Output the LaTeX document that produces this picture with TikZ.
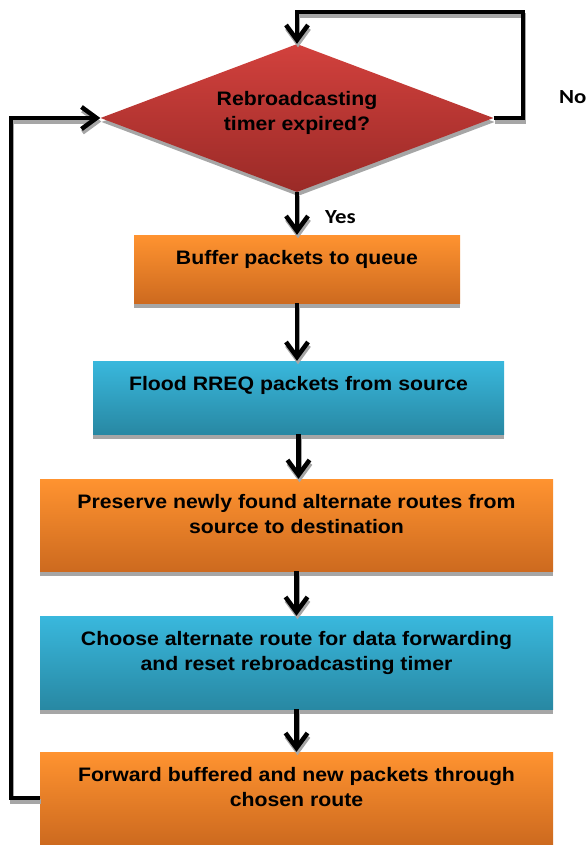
\documentclass[tikz,border=0pt]{standalone}
\usepackage{fontspec}
\setmainfont[FakeStretch=1.09]{Liberation Sans}
\newfontfamily\lblfont[FakeStretch=1.14]{Carlito}
\usetikzlibrary{shapes.geometric,shadows,arrows.meta}
\definecolor{orTop}{HTML}{FF9330}
\definecolor{orBot}{HTML}{CD6A1F}
\definecolor{blTop}{HTML}{39B8DD}
\definecolor{blBot}{HTML}{2888A3}
\definecolor{rdTop}{HTML}{D2413D}
\definecolor{rdBot}{HTML}{9A2A27}
\definecolor{shgray}{HTML}{A6A6A6}
\tikzset{
  boxbase/.style={rectangle, inner sep=0pt, draw=none,
    drop shadow={shadow xshift=0pt, shadow yshift=-5pt, fill=shgray, opacity=1}},
  orbox/.style={boxbase, top color=orTop, bottom color=orBot},
  blbox/.style={boxbase, top color=blTop, bottom color=blBot},
  decision/.style={diamond, inner sep=0pt, draw=none, top color=rdTop, bottom color=rdBot,
    drop shadow={shadow xshift=1pt, shadow yshift=-4pt, fill=shgray, opacity=1}},
  boxtext/.style={anchor=north, inner sep=0pt, align=center,
    font=\fontsize{19.5}{25}\selectfont\bfseries},
  yesno/.style={inner sep=0pt, font=\lblfont\fontsize{20}{22}\selectfont\bfseries},
  conn/.style={line width=4.5pt, line join=miter},
  tip/.style={-{Straight Barb[length=15pt, width=22pt]}},
}
\newcommand\drawconns[1]{%
  \draw[conn, draw=#1, tip] (dia.south) -- (dia.south |- b1.north);
  \draw[conn, draw=#1, tip] (b1.south) -- (b1.south |- b2.north);
  \draw[conn, draw=#1, tip] (b2.south) -- (b2.south |- b3.north);
  \draw[conn, draw=#1, tip] (b3.south) -- (b3.south |- b4.north);
  \draw[conn, draw=#1, tip] (b4.south) -- (b4.south |- b5.north);
  \draw[conn, draw=#1, tip] (dia.east) -| (loopR) -- (loopT) -- (dia.north);
  \draw[conn, draw=#1, tip] (b5.west) -| (loopL) |- (dia.west);
}
\begin{document}
\begin{tikzpicture}[x=1pt, y=-1pt]
\useasboundingbox (0,0) rectangle (588,845);
% shapes
\node[decision, minimum width=393pt, minimum height=148pt] (dia) at (297,118) {};
\node[orbox, minimum width=326pt, minimum height=68pt] (b1) at (297,269) {};
\node[blbox, minimum width=411pt, minimum height=73pt] (b2) at (298.5,397.5) {};
\node[orbox, minimum width=513pt, minimum height=92pt] (b3) at (296.5,525) {};
\node[blbox, minimum width=513pt, minimum height=93pt] (b4) at (296.5,662.5) {};
\node[orbox, minimum width=513pt, minimum height=92pt] (b5) at (296.5,798) {};
% free connector ends
\coordinate (loopR) at (523,12);
\coordinate (loopT) at (297,12);
\coordinate (loopL) at (11,460);
% texts
\node[boxtext] (tdia) at ([yshift=5.5pt]dia.center) [anchor=center] {Rebroadcasting\\timer expired?};
\node[boxtext] (t1) at ([yshift=-15.5pt]b1.north) {Buffer packets to queue};
\node[boxtext] (t2) at ([yshift=-15.5pt]b2.north) {Flood RREQ packets from source};
\node[boxtext] (t3) at ([yshift=-15.5pt]b3.north) {Preserve newly found alternate routes from\\source to destination};
\node[boxtext] (t4) at ([yshift=-15.5pt]b4.north) {Choose alternate route for data forwarding\\and reset rebroadcasting timer};
\node[boxtext] (t5) at ([yshift=-15.5pt]b5.north) {Forward buffered and new packets through\\chosen route};
% connectors: shadow then line
\begin{scope}[transform canvas={xshift=1pt, yshift=-3.5pt}]
  \drawconns{shgray}
\end{scope}
\drawconns{black}
% labels
\node[yesno, anchor=west] (yes) at (325,217) {Yes};
\node[yesno, anchor=east] (no) at (586.5,97) {No};
\end{tikzpicture}
\end{document}
